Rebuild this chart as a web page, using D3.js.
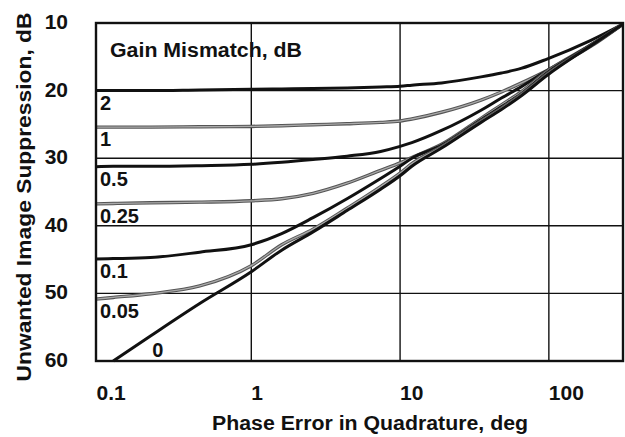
<!DOCTYPE html>
<html>
<head>
<meta charset="utf-8">
<script src="https://cdn.jsdelivr.net/npm/d3@7"></script>
<style>
  body { margin: 0; background: #fff; }
  text { font-family: "Liberation Sans Narrow", "Arial Narrow", "Liberation Sans", Arial, sans-serif; font-weight: bold; fill: #111; }
</style>
</head>
<body>
<svg width="625" height="437"></svg>
<script>
// phase error (deg) sample points shared by all curves
const phase = [0.09, 0.118, 0.21, 0.45, 1, 1.6, 2.6, 4.4, 7.4, 10, 12, 19, 35, 48, 65, 98, 190, 315];

// unwanted image suppression (dB) for each gain mismatch
const gain2    = [20.0, 20.0, 20.0, 19.9, 19.8, 19.75, 19.7, 19.6, 19.45, 19.35, 19.2, 18.86, 17.97, 17.4, 16.72, 15.3, 12.6, 10.15];
const gain1    = [25.4, 25.4, 25.4, 25.35, 25.3, 25.2, 25.05, 24.9, 24.7, 24.5, 24.2, 23.2, 21.4, 20.2, 18.9, 17.0, 13.5, 10.15];
const gain05   = [31.25, 31.2, 31.2, 31.1, 30.9, 30.6, 30.2, 29.7, 29.0, 28.25, 27.7, 25.9, 22.9, 21.1, 19.45, 17.0, 13.4, 10.15];
const gain025  = [36.75, 36.7, 36.6, 36.5, 36.3, 36.0, 35.2, 33.7, 31.8, 30.7, 29.9, 27.95, 24.1, 22.1, 20.2, 17.1, 13.3, 10.15];
const gain01   = [44.9, 44.85, 44.7, 43.9, 42.8, 41.15, 38.8, 36.0, 33.0, 31.2, 30.0, 28.1, 24.3, 22.4, 20.5, 17.3, 13.3, 10.15];
const gain005  = [50.85, 50.6, 50.05, 48.9, 45.9, 42.8, 40.5, 37.4, 34.2, 32.2, 30.8, 28.3, 24.5, 22.6, 20.6, 17.5, 13.35, 10.15];
const gain0    = [null, 60, 56.3, 51.5, 46.8, 43.6, 40.9, 37.75, 34.6, 32.6, 31.2, 28.5, 24.7, 22.8, 20.8, 17.7, 13.4, 10.15];

const seriesNames = ["2", "1", "0.5", "0.25", "0.1", "0.05", "0"];
const seriesValues = [gain2, gain1, gain05, gain025, gain01, gain005, gain0];
const seriesGray = [false, true, false, true, false, true, false];

const xTicks = [0.1, 1, 10, 100];
const xTickLabels = ["0.1", "1", "10", "100"];
const yTicks = [10, 20, 30, 40, 50, 60];

const plotLeft = 96, plotRight = 623, plotTop = 23, plotBottom = 361;

const svg = d3.select("svg");

const x = d3.scaleLog().domain([0.0904, 315]).range([plotLeft, plotRight]);
const y = d3.scaleLinear().domain([10, 60]).range([plotTop, plotBottom]);

// grid
const grid = svg.append("g");
grid.selectAll(".vg")
    .data(xTicks.slice(1))
    .enter().append("line")
      .attr("x1", d => x(d)).attr("x2", d => x(d))
      .attr("y1", plotTop).attr("y2", plotBottom)
      .attr("stroke", "#111").attr("stroke-width", 1.4);
grid.selectAll(".hg")
    .data(yTicks.slice(1, -1))
    .enter().append("line")
      .attr("x1", plotLeft).attr("x2", plotRight)
      .attr("y1", d => y(d)).attr("y2", d => y(d))
      .attr("stroke", "#111").attr("stroke-width", 1.4);

// curves
const line = d3.line()
    .defined(d => d.v != null)
    .x(d => x(d.p))
    .y(d => y(d.v))
    .curve(d3.curveMonotoneX);

seriesValues.forEach(function(vals, i) {
    const pts = phase.map((p, j) => ({p: p, v: vals[j]}));
    if (seriesGray[i]) {
        svg.append("path").attr("d", line(pts))
           .attr("fill", "none").attr("stroke", "#555").attr("stroke-width", 3.4);
        svg.append("path").attr("d", line(pts))
           .attr("fill", "none").attr("stroke", "#aaa").attr("stroke-width", 1.3);
    } else {
        svg.append("path").attr("d", line(pts))
           .attr("fill", "none").attr("stroke", "#111").attr("stroke-width", 3);
    }
});

// frame
svg.append("rect")
   .attr("x", plotLeft).attr("y", plotTop)
   .attr("width", plotRight - plotLeft).attr("height", plotBottom - plotTop)
   .attr("fill", "none").attr("stroke", "#111").attr("stroke-width", 2.4);

// curve labels
seriesNames.forEach(function(name, i) {
    const vals = seriesValues[i];
    if (name === "0") {
        svg.append("text").attr("x", x(0.2) + 5).attr("y", y(60) - 4)
           .attr("font-size", 20).text(name);
    } else {
        svg.append("text").attr("x", plotLeft + 4).attr("y", y(vals[0]) + 19)
           .attr("font-size", 20).text(name);
    }
});

svg.append("text").attr("x", 110).attr("y", 57)
   .attr("font-size", 20).attr("textLength", 192).attr("lengthAdjust", "spacingAndGlyphs")
   .text("Gain Mismatch, dB");

// axes labels
svg.selectAll(".yt")
   .data(yTicks)
   .enter().append("text")
     .attr("x", 68).attr("y", d => y(d) + 6)
     .attr("text-anchor", "end").attr("font-size", 21)
     .text(d => d);

svg.selectAll(".xt")
   .data(xTicks)
   .enter().append("text")
     .attr("x", (d, i) => x(d) + (i === 0 ? -6 : 0)).attr("y", 400)
     .attr("text-anchor", "start").attr("font-size", 21)
     .text((d, i) => xTickLabels[i]);

svg.append("text")
   .attr("x", 370).attr("y", 430)
   .attr("text-anchor", "middle").attr("font-size", 20)
   .attr("textLength", 316).attr("lengthAdjust", "spacingAndGlyphs")
   .text("Phase Error in Quadrature, deg");

svg.append("text")
   .attr("transform", "translate(31,197) rotate(-90)")
   .attr("text-anchor", "middle").attr("font-size", 20)
   .attr("textLength", 369).attr("lengthAdjust", "spacingAndGlyphs")
   .text("Unwanted Image Suppression, dB");
</script>
</body>
</html>
